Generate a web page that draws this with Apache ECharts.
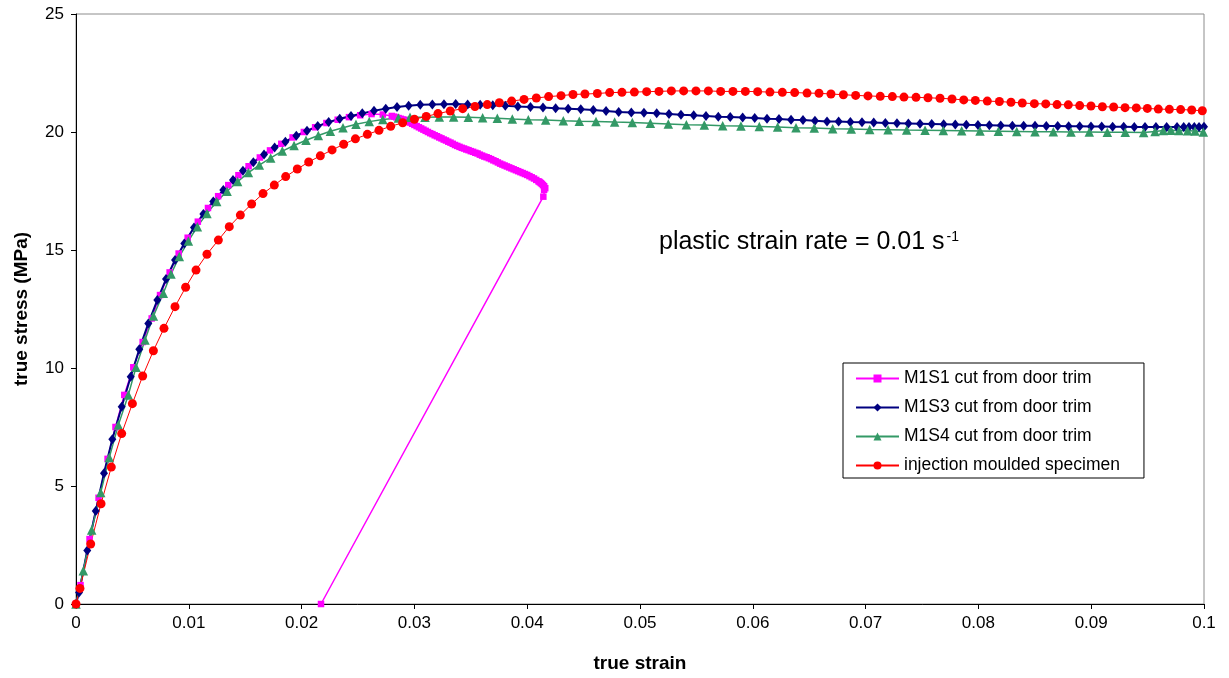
<!DOCTYPE html>
<html>
<head>
<meta charset="utf-8">
<script src="https://cdn.jsdelivr.net/npm/echarts@6/dist/echarts.min.js"></script>
<style>
html,body{margin:0;padding:0;background:#fff;}
#chart{width:1229px;height:678px;}
</style>
</head>
<body>
<div id="chart"></div>
<script>
// ---- data (true strain, true stress MPa) ----
const seriesNames = ['M1S1 cut from door trim','M1S3 cut from door trim','M1S4 cut from door trim','injection moulded specimen'];
const xTickLabels = ['0','0.01','0.02','0.03','0.04','0.05','0.06','0.07','0.08','0.09','0.1'];
const yTickLabels = ['0','5','10','15','20','25'];
const annotationText = 'plastic strain rate = 0.01 s';
const annotationSup = '-1';

const m1s1 = [
[0,0],[0.0004,0.8],[0.0012,2.75],[0.002,4.5],[0.0028,6.15],[0.0035,7.5],[0.00428,8.86],[0.00508,10.03],
[0.00591,11.1],[0.00671,12.1],[0.00745,13.09],[0.0083,14.05],[0.0091,14.85],[0.0099,15.52],[0.0108,16.2],
[0.0117,16.78],[0.0126,17.28],[0.0135,17.75],[0.0144,18.17],[0.0153,18.55],[0.0163,18.92],[0.0172,19.22],
[0.0182,19.5],[0.0192,19.77],[0.0202,20.0],[0.0212,20.2],[0.0222,20.38],[0.0232,20.52],[0.0242,20.63],
[0.0252,20.71],[0.0262,20.76],[0.0272,20.74],
[0.0280,20.68],[0.0282,20.65],[0.0284,20.62],[0.0286,20.59],[0.0288,20.56],[0.0290,20.53],[0.0292,20.49],
[0.0294,20.45],[0.0296,20.40],[0.0298,20.35],[0.0300,20.30],[0.0302,20.25],[0.0304,20.20],[0.0306,20.15],
[0.0308,20.10],[0.0310,20.05],[0.0312,20.00],[0.0314,19.95],[0.0316,19.91],[0.0318,19.86],[0.0320,19.82],
[0.0322,19.77],[0.0324,19.73],[0.0326,19.68],[0.0328,19.64],[0.0330,19.59],[0.0332,19.55],[0.0334,19.50],
[0.0336,19.45],[0.0338,19.41],[0.0340,19.37],[0.0342,19.33],[0.0344,19.30],[0.0346,19.26],[0.0348,19.23],
[0.0350,19.19],[0.0352,19.16],[0.0354,19.12],[0.0356,19.09],[0.0358,19.04],[0.0360,19.00],[0.0362,18.96],
[0.0364,18.93],[0.0366,18.89],[0.0368,18.85],[0.0370,18.80],[0.0372,18.76],[0.0374,18.71],[0.0376,18.66],
[0.0378,18.62],[0.0380,18.58],[0.0382,18.54],[0.0384,18.50],[0.0386,18.46],[0.0388,18.42],[0.0390,18.38],
[0.0392,18.34],[0.0394,18.30],[0.0396,18.26],[0.0398,18.22],[0.0400,18.18],[0.0402,18.13],[0.0404,18.08],
[0.0406,18.03],[0.0408,17.97],[0.0410,17.91],[0.0411,17.88],[0.0412,17.84],[0.0413,17.80],[0.0414,17.75],
[0.0415,17.70],[0.0416,17.62],[0.0415,17.55],[0.04143,17.26],
[0.02172,0]
];

const m1s3 = [
[0,0],[0.00027,0.49],[0.001,2.27],[0.00175,3.94],[0.00248,5.54],[0.00322,6.98],[0.00405,8.36],[0.00485,9.63],
[0.00561,10.79],[0.00641,11.89],[0.00721,12.88],[0.00798,13.77],[0.00878,14.58],[0.0096,15.28],[0.01046,15.95],
[0.01129,16.53],[0.01217,17.06],[0.01306,17.54],[0.01392,17.97],[0.0148,18.36],[0.01572,18.72],[0.01667,19.05],
[0.01761,19.34],[0.01856,19.59],[0.01953,19.84],[0.02048,20.05],[0.02143,20.25],[0.0224,20.42],[0.02338,20.56],
[0.02438,20.68],[0.02538,20.79],[0.02642,20.9],[0.02746,20.99],[0.02846,21.06],[0.02949,21.11],[0.03052,21.15],
[0.03159,21.17],[0.03262,21.18],[0.03366,21.19],[0.03472,21.17],[0.03583,21.15],[0.03695,21.13],[0.03806,21.11],
[0.03917,21.08],[0.04029,21.06],[0.0414,21.04],[0.04252,21.01],[0.04363,20.99],[0.04475,20.96],[0.04586,20.93],
[0.04699,20.89],[0.04811,20.85],[0.04923,20.83],[0.05035,20.82],[0.05148,20.79],[0.05257,20.76],[0.05363,20.73],
[0.05476,20.71],[0.05585,20.68],[0.05694,20.65],[0.058,20.64],[0.0591,20.61],[0.06017,20.59],[0.06126,20.56],
[0.06232,20.55],[0.06339,20.52],[0.06445,20.51],[0.06551,20.48],[0.06658,20.45],[0.06761,20.44],[0.06865,20.42],
[0.06968,20.41],[0.07072,20.4],[0.07175,20.38],[0.07278,20.37],[0.07379,20.36],[0.07482,20.35],[0.07586,20.34],
[0.07692,20.33],[0.07795,20.32],[0.07893,20.31],[0.07996,20.30],[0.08097,20.29],[0.08198,20.28],[0.08301,20.27],
[0.08401,20.26],[0.08502,20.26],[0.08602,20.25],[0.08703,20.25],[0.088,20.24],[0.08898,20.24],[0.08998,20.23],
[0.09093,20.23],[0.0919,20.22],[0.09288,20.22],[0.09382,20.21],[0.09477,20.21],[0.09574,20.21],[0.09669,20.21],
[0.09761,20.21],[0.0982,20.21],[0.09867,20.21],[0.09914,20.21],[0.09956,20.21],[0.1,20.22]
];

const m1s4 = [
[0,0],[0.00065,1.41],[0.00139,3.14],[0.00219,4.72],[0.00295,6.21],[0.00375,7.58],[0.00464,8.86],[0.00532,10.03],
[0.00612,11.19],[0.00686,12.2],[0.00774,13.17],[0.00842,13.98],[0.00916,14.72],[0.00996,15.38],[0.01076,15.99],
[0.01161,16.55],[0.01247,17.05],[0.01339,17.49],[0.01433,17.9],[0.01528,18.28],[0.01625,18.6],[0.01726,18.9],
[0.01829,19.19],[0.01933,19.43],[0.02039,19.65],[0.02148,19.85],[0.02255,20.03],[0.02367,20.18],[0.02482,20.33],
[0.026,20.44],[0.0272,20.53],[0.02858,20.59],[0.02961,20.62],[0.03094,20.63],[0.03221,20.64],[0.03348,20.64],
[0.03478,20.62],[0.03605,20.6],[0.03735,20.58],[0.03868,20.55],[0.0401,20.52],[0.04164,20.51],[0.0432,20.48],
[0.04462,20.46],[0.0461,20.45],[0.04775,20.42],[0.04932,20.40],[0.05092,20.37],[0.05251,20.34],[0.05411,20.31],
[0.0557,20.30],[0.05733,20.27],[0.05895,20.25],[0.06058,20.23],[0.0622,20.21],[0.06383,20.18],[0.06545,20.17],
[0.06708,20.14],[0.06873,20.13],[0.07036,20.11],[0.07199,20.10],[0.07364,20.08],[0.07527,20.07],[0.07689,20.06],
[0.07852,20.05],[0.08014,20.04],[0.08177,20.03],[0.0834,20.02],[0.08502,20.01],[0.08664,20.01],[0.08821,20.00],
[0.08983,20.00],[0.09143,19.99],[0.09302,19.99],[0.09465,19.98],[0.09566,20.02],[0.09639,20.06],[0.09707,20.07],
[0.09778,20.06],[0.09855,20.05],[0.0992,20.04],[0.09994,20.0]
];

const injection = [
[0,0],[0.00035,0.66],[0.0013,2.54],[0.00222,4.25],[0.00313,5.8],[0.00405,7.22],[0.005,8.49],[0.00591,9.66],
[0.00686,10.73],[0.0078,11.68],[0.00878,12.6],[0.00972,13.42],[0.01064,14.15],[0.01161,14.82],[0.01262,15.42],
[0.01359,15.99],[0.01457,16.48],[0.01557,16.95],[0.01658,17.39],[0.01758,17.75],[0.01859,18.11],[0.01962,18.43],
[0.02063,18.73],[0.02166,18.99],[0.0227,19.24],[0.02373,19.48],[0.02477,19.71],[0.02583,19.9],[0.02686,20.07],
[0.0279,20.24],[0.02896,20.39],[0.03,20.54],[0.03105,20.66],[0.03209,20.78],[0.03318,20.89],[0.03428,20.99],
[0.03537,21.08],[0.03646,21.16],[0.03753,21.24],[0.03862,21.31],[0.03972,21.38],[0.04081,21.44],[0.0419,21.5],
[0.043,21.54],[0.04406,21.59],[0.04512,21.61],[0.04622,21.63],[0.04731,21.67],[0.0484,21.68],[0.0495,21.69],
[0.05059,21.71],[0.05168,21.72],[0.05278,21.74],[0.05387,21.74],[0.05496,21.74],[0.05606,21.74],[0.05715,21.72],
[0.05824,21.72],[0.05934,21.72],[0.06043,21.71],[0.06152,21.69],[0.06262,21.68],[0.06371,21.67],[0.06481,21.65],
[0.06587,21.64],[0.06693,21.61],[0.06803,21.58],[0.06912,21.55],[0.07021,21.53],[0.0713,21.51],[0.07237,21.50],
[0.0734,21.48],[0.07447,21.47],[0.07553,21.45],[0.0766,21.43],[0.07766,21.40],[0.0787,21.36],[0.07973,21.34],
[0.08079,21.31],[0.08186,21.29],[0.08289,21.26],[0.08389,21.23],[0.08496,21.20],[0.08597,21.19],[0.08697,21.16],
[0.08797,21.15],[0.08898,21.12],[0.08998,21.10],[0.09099,21.07],[0.09199,21.06],[0.093,21.03],[0.094,21.02],
[0.09498,21.00],[0.09595,20.97],[0.09693,20.96],[0.09793,20.95],[0.09891,20.93],[0.09985,20.90]
];

const FONT = '"Liberation Sans", Arial, sans-serif';
const chart = echarts.init(document.getElementById('chart'), null, {renderer:'canvas'});

function mk(name, data, color, symbol, size, width) {
  return {
    name: name, type: 'line', data: data,
    symbol: symbol, symbolSize: size, showSymbol: true,
    itemStyle: {color: color, borderWidth: 0},
    lineStyle: {color: color, width: width},
    emphasis: {disabled: true},
    animation: false, clip: true
  };
}

const option = {
  animation: false,
  backgroundColor: '#fff',
  grid: {left: 76, right: 25, top: 14, bottom: 74, show: true, borderColor: '#8c8c8c', borderWidth: 1, containLabel: false},
  xAxis: {
    type: 'value', min: 0, max: 0.1, interval: 0.01,
    name: 'true strain', nameLocation: 'middle', nameGap: 50,
    nameTextStyle: {fontFamily: FONT, fontSize: 19, fontWeight: 'bold', color: '#000'},
    axisLine: {show: true, lineStyle: {color: '#000', width: 1}},
    axisTick: {show: true, inside: false, length: 5, lineStyle: {color: '#000'}},
    axisLabel: {fontFamily: FONT, fontSize: 17, color: '#000', margin: 11,
      formatter: v => xTickLabels[Math.round(v / 0.01)]},
    splitLine: {show: false}
  },
  yAxis: {
    type: 'value', min: 0, max: 25, interval: 5,
    name: 'true stress (MPa)', nameLocation: 'middle', nameGap: 45, nameRotate: 90,
    nameTextStyle: {fontFamily: FONT, fontSize: 19, fontWeight: 'bold', color: '#000'},
    axisLine: {show: true, lineStyle: {color: '#000', width: 1}},
    axisTick: {show: true, inside: false, length: 5, lineStyle: {color: '#000'}},
    axisLabel: {fontFamily: FONT, fontSize: 17, color: '#000', margin: 12,
      formatter: v => yTickLabels[Math.round(v / 5)]},
    splitLine: {show: false}
  },
  legend: {
    orient: 'vertical', left: 843, top: 363,
    padding: [6, 24, 3, 12], itemGap: 10, itemWidth: 43, itemHeight: 10,
    backgroundColor: '#fff', borderColor: '#000', borderWidth: 1, borderRadius: 0,
    textStyle: {fontFamily: FONT, fontSize: 17.5, color: '#000', lineHeight: 19},
    data: seriesNames,
    selectedMode: false
  },
  graphic: [
    {type: 'text', left: 659, top: 230, z: 100,
     style: {
       text: '{a|' + annotationText + '}{b|' + annotationSup + '}',
       rich: {
         a: {fontFamily: FONT, fontSize: 25, fill: '#000', color: '#000'},
         b: {fontFamily: FONT, fontSize: 14, fill: '#000', color: '#000', verticalAlign: 'top', padding: [0, 0, 0, 2]}
       }
     }}
  ],
  series: [
    mk(seriesNames[0], m1s1, '#FF00FF', 'rect', 6.5, 1.5),
    mk(seriesNames[1], m1s3, '#000080', 'diamond', [8, 10], 2),
    mk(seriesNames[2], m1s4, '#339966', 'triangle', 9.5, 1.5),
    mk(seriesNames[3], injection, '#FF0000', 'circle', 9, 1)
  ]
};
chart.setOption(option);
</script>
</body>
</html>
